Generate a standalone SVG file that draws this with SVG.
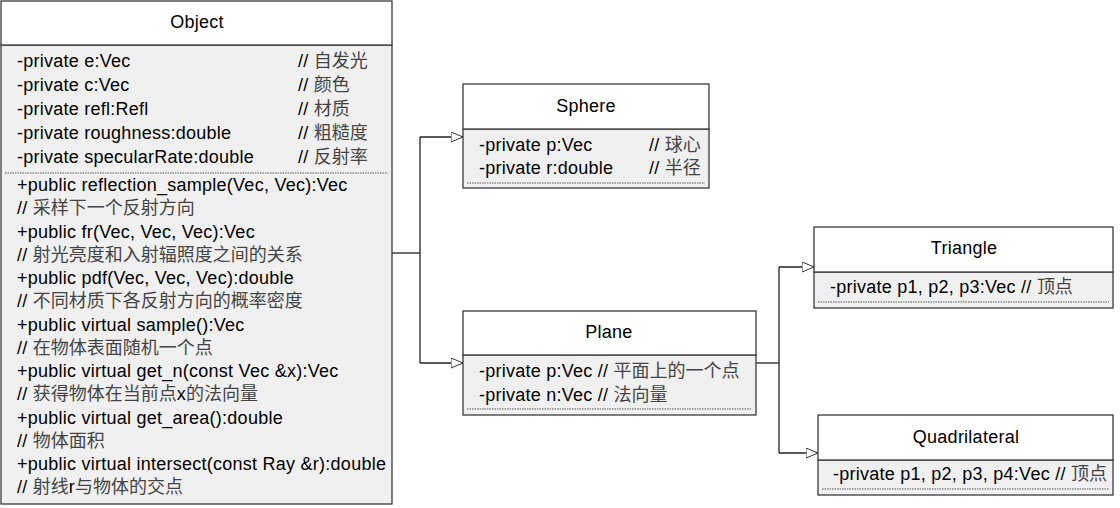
<svg xmlns="http://www.w3.org/2000/svg" width="1120" height="508" viewBox="0 0 1120 508">
<defs>
<marker id="tri" markerWidth="14" markerHeight="12" refX="12" refY="5" orient="auto" markerUnits="userSpaceOnUse">
<path d="M0,0 L12,5 L0,10 Z" fill="#fff" stroke="#333" stroke-width="1"/>
</marker>
<style>
.head{fill:#fff;stroke:#3a3a3a;stroke-width:1.3}
.body{fill:#f0f0f0;stroke:#3a3a3a;stroke-width:1.3}
.dot{stroke:#555;stroke-width:1;stroke-dasharray:1.5 1}
text{font-family:"Liberation Sans","Noto Sans CJK SC",sans-serif;font-size:18px;letter-spacing:0.25px;fill:#000}
.t{text-anchor:middle}
.c{fill:#444;letter-spacing:0}
.conn{fill:none;stroke:#222;stroke-width:1.3}
</style>
</defs>
<g id="connectors">
<path class="conn" d="M392,253 H420"/>
<path class="conn" d="M420,137 V363"/>
<path class="conn" d="M420,137 H463" marker-end="url(#tri)"/>
<path class="conn" d="M420,363 H463" marker-end="url(#tri)"/>
<path class="conn" d="M756,363 H779"/>
<path class="conn" d="M779,267 V453"/>
<path class="conn" d="M779,267 H814" marker-end="url(#tri)"/>
<path class="conn" d="M779,453 H818" marker-end="url(#tri)"/>
</g>
<g id="Object">
<rect class="body" x="1" y="45" width="391" height="459"/>
<rect class="head" x="1" y="1" width="391" height="44"/>
<text class="t" x="197" y="28">Object</text>
<text x="17" y="67">-private e:Vec</text><text x="298" y="67">// <tspan class="c">自发光</tspan></text>
<text x="17" y="91">-private c:Vec</text><text x="298" y="91">// <tspan class="c">颜色</tspan></text>
<text x="17" y="115">-private refl:Refl</text><text x="298" y="115">// <tspan class="c">材质</tspan></text>
<text x="17" y="139">-private roughness:double</text><text x="298" y="139">// <tspan class="c">粗糙度</tspan></text>
<text x="17" y="163">-private specularRate:double</text><text x="298" y="163">// <tspan class="c">反射率</tspan></text>
<line class="dot" x1="5" y1="173" x2="388" y2="173"/>
<text x="17" y="191">+public reflection_sample(Vec, Vec):Vec</text>
<text x="17" y="214.3">// <tspan class="c">采样下一个反射方向</tspan></text>
<text x="17" y="237.5">+public fr(Vec, Vec, Vec):Vec</text>
<text x="17" y="260.8">// <tspan class="c">射光亮度和入射辐照度之间的关系</tspan></text>
<text x="17" y="284">+public pdf(Vec, Vec, Vec):double</text>
<text x="17" y="307.3">// <tspan class="c">不同材质下各反射方向的概率密度</tspan></text>
<text x="17" y="330.5">+public virtual sample():Vec</text>
<text x="17" y="353.8">// <tspan class="c">在物体表面随机一个点</tspan></text>
<text x="17" y="377">+public virtual get_n(const Vec &amp;x):Vec</text>
<text x="17" y="400.3">// <tspan class="c">获得物体在当前点</tspan>x<tspan class="c">的法向量</tspan></text>
<text x="17" y="423.5">+public virtual get_area():double</text>
<text x="17" y="446.8">// <tspan class="c">物体面积</tspan></text>
<text x="17" y="470">+public virtual intersect(const Ray &amp;r):double</text>
<text x="17" y="493.3">// <tspan class="c">射线</tspan>r<tspan class="c">与物体的交点</tspan></text>
</g>
<g id="Sphere">
<rect class="body" x="463" y="129" width="246" height="59"/>
<rect class="head" x="463" y="84" width="246" height="45"/>
<text class="t" x="586" y="112">Sphere</text>
<text x="479" y="151">-private p:Vec</text><text x="649" y="151">// <tspan class="c">球心</tspan></text>
<text x="479" y="174">-private r:double</text><text x="649" y="174">// <tspan class="c">半径</tspan></text>
<line class="dot" x1="467" y1="183" x2="705" y2="183"/>
</g>
<g id="Plane">
<rect class="body" x="463" y="355" width="293" height="60"/>
<rect class="head" x="463" y="311" width="293" height="44"/>
<text class="t" x="609" y="338">Plane</text>
<text x="479" y="377">-private p:Vec // <tspan class="c">平面上的一个点</tspan></text>
<text x="479" y="401">-private n:Vec // <tspan class="c">法向量</tspan></text>
<line class="dot" x1="467" y1="409" x2="752" y2="409"/>
</g>
<g id="Triangle">
<rect class="body" x="814" y="272" width="299" height="36"/>
<rect class="head" x="814" y="227" width="299" height="45"/>
<text class="t" x="964" y="254">Triangle</text>
<text x="830" y="293">-private p1, p2, p3:Vec // <tspan class="c">顶点</tspan></text>
<line class="dot" x1="818" y1="302" x2="1109" y2="302"/>
</g>
<g id="Quadrilateral">
<rect class="body" x="818" y="460" width="295" height="35"/>
<rect class="head" x="818" y="415" width="295" height="45"/>
<text class="t" x="966" y="443">Quadrilateral</text>
<text x="833" y="480">-private p1, p2, p3, p4:Vec // <tspan class="c">顶点</tspan></text>
<line class="dot" x1="822" y1="489" x2="1109" y2="489"/>
</g>
</svg>
